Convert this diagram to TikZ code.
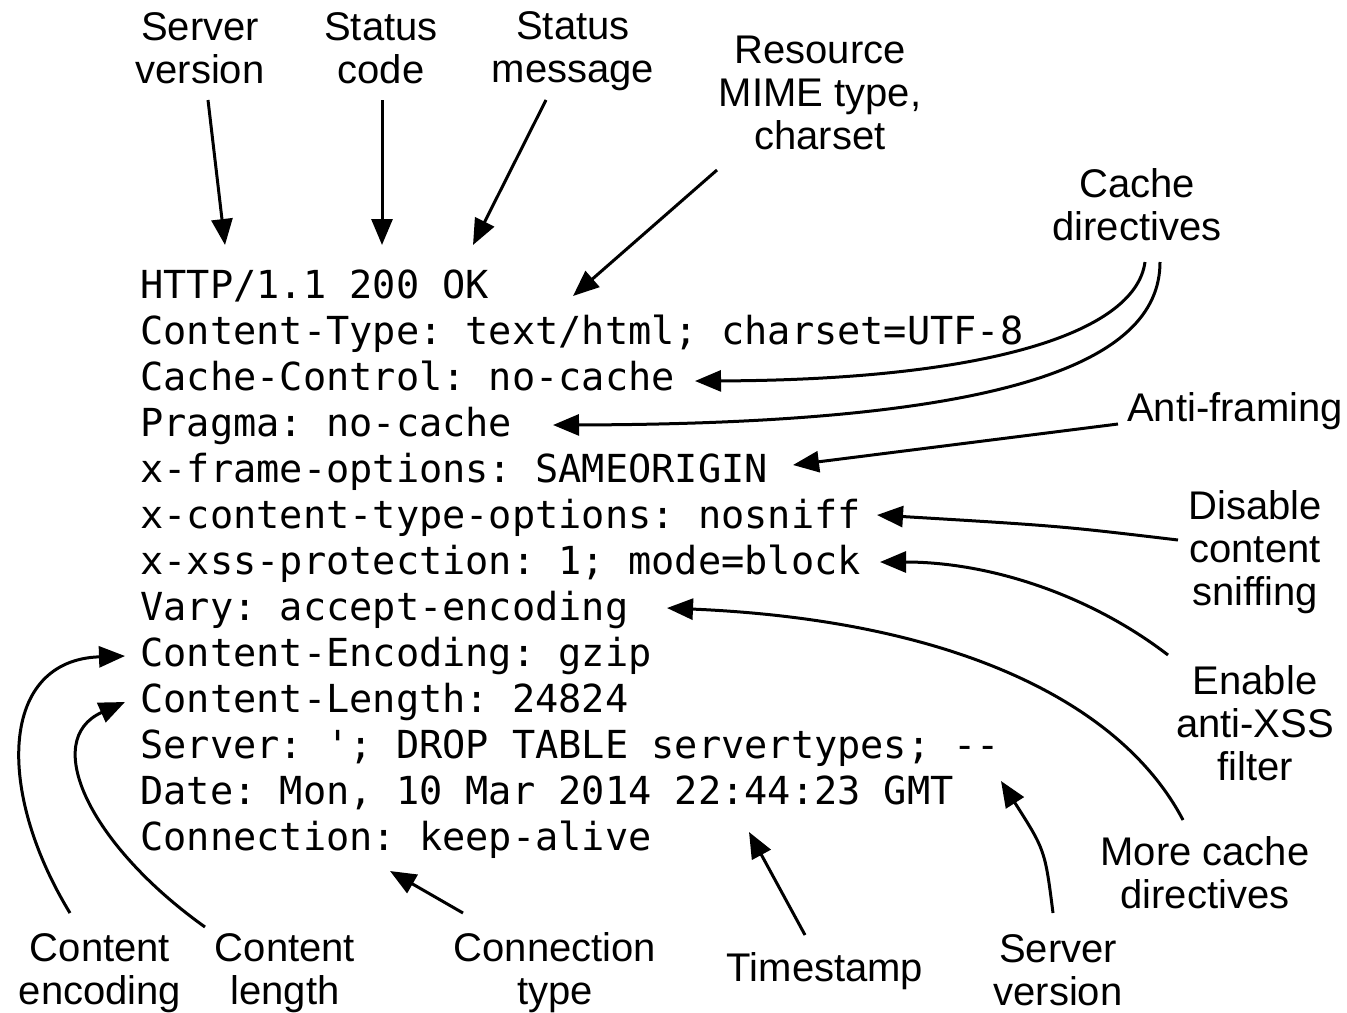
\documentclass[tikz,border=0pt]{standalone}
\usepackage{fontspec}
\setmainfont{Liberation Sans}
\setmonofont{DejaVu Sans Mono}
\usetikzlibrary{arrows.meta}
\begin{document}
\begin{tikzpicture}[x=0.5pt,y=-0.5pt,
  lbl/.style={font=\fontsize{20}{21.5}\selectfont, align=center, inner sep=0pt},
  code/.style={font=\ttfamily\fontsize{19.3}{23}\selectfont, anchor=base west, inner sep=0pt},
  ptr/.style={line width=1.5pt, -{Triangle[length=13pt,width=10.5pt]}}]
\fill[white] (0,0) rectangle (1347,1012);
\useasboundingbox (0,0) rectangle (1347,1012);

% the response header, one line per node
\node[code] (l0)  at (140,298) {HTTP/1.1 200 OK};
\node[code] (l1)  at (140,344) {Content-Type: text/html; charset=UTF-8};
\node[code] (l2)  at (140,390) {Cache-Control: no-cache};
\node[code] (l3)  at (140,436) {Pragma: no-cache};
\node[code] (l4)  at (140,482) {x-frame-options: SAMEORIGIN};
\node[code] (l5)  at (140,528) {x-content-type-options: nosniff};
\node[code] (l6)  at (140,574) {x-xss-protection: 1; mode=block};
\node[code] (l7)  at (140,620) {Vary: accept-encoding};
\node[code] (l8)  at (140,666) {Content-Encoding: gzip};
\node[code] (l9)  at (140,712) {Content-Length: 24824};
\node[code] (l10) at (140,758) {Server: '; DROP TABLE servertypes; --};
\node[code] (l11) at (140,804) {Date: Mon, 10 Mar 2014 22:44:23 GMT};
\node[code] (l12) at (140,850) {Connection: keep-alive};

% annotations
\node[lbl] (srvtop) at (200,48)  {Server\\version};
\node[lbl] (scode)  at (381,48)  {Status\\code};
\node[lbl] (smsg)   at (573,51)  {Status\\message};
\node[lbl] (mime)   at (820,93)  {Resource\\MIME type,\\charset};
\node[lbl] (cache)  at (1137,205) {Cache\\directives};
\node[lbl] (frame)  at (1235,411) {Anti-framing};
\node[lbl] (sniff)  at (1255,552) {Disable\\content\\sniffing};
\node[lbl] (xss)    at (1255,723) {Enable\\anti-XSS\\filter};
\node[lbl] (more)   at (1205,873) {More cache\\directives};
\node[lbl] (srvbot) at (1058,970) {Server\\version};
\node[lbl] (stamp)  at (825,971)  {Timestamp};
\node[lbl] (conn)   at (555,973)  {Connection\\type};
\node[lbl] (clen)   at (285,973)  {Content\\length};
\node[lbl] (cenc)   at (100,973)  {Content\\encoding};

% arrow end points
\coordinate (srvtopA) at (208,100);  \coordinate (srvtopB) at (225,245);
\coordinate (scodeA)  at (382,100);  \coordinate (scodeB)  at (382,245);
\coordinate (smsgA)   at (546,100);  \coordinate (smsgB)   at (473,245);
\coordinate (mimeA)   at (717,170);  \coordinate (mimeB)   at (573,296);
\coordinate (cacheA)  at (1145,262); \coordinate (cacheB)  at (695,381);
\coordinate (cacheC)  at (1160,262); \coordinate (cacheD)  at (553,425);
\coordinate (frameA)  at (1118,424); \coordinate (frameB)  at (793,465);
\coordinate (sniffA)  at (1178,540); \coordinate (sniffB)  at (877,515);
\coordinate (xssA)    at (1168,655); \coordinate (xssB)    at (880,562);
\coordinate (moreA)   at (1183,820); \coordinate (moreB)   at (667,608);
\coordinate (srvbotA) at (1053,913); \coordinate (srvbotB) at (1001,781);
\coordinate (stampA)  at (805,935);  \coordinate (stampB)  at (749,832);
\coordinate (connA)   at (463,913);  \coordinate (connB)   at (390,871);
\coordinate (clenA)   at (205,927);  \coordinate (clenB)   at (125,702);
\coordinate (cencA)   at (70,913);   \coordinate (cencB)   at (125,656);

\draw[ptr] (srvtopA) -- (srvtopB);
\draw[ptr] (scodeA) -- (scodeB);
\draw[ptr] (smsgA) -- (smsgB);
\draw[ptr] (mimeA) -- (mimeB);
\draw[ptr] (cacheA) .. controls (1135,335) and (980,380) .. (cacheB);
\draw[ptr] (cacheC) .. controls (1160,365) and (1000,424) .. (cacheD);
\draw[ptr] (frameA) -- (frameB);
\draw[ptr] (sniffA) .. controls (1060,526) .. (sniffB);
\draw[ptr] (xssA) .. controls (1090,595) and (990,562) .. (xssB);
\draw[ptr] (moreA) .. controls (1120,700) and (950,620) .. (moreB);
\draw[ptr] (srvbotA) .. controls (1045,850) .. (srvbotB);
\draw[ptr] (stampA) -- (stampB);
\draw[ptr] (connA) -- (connB);
\draw[ptr] (clenA) .. controls (90,845) and (40,740) .. (clenB);
\draw[ptr] (cencA) .. controls (-5,790) and (0,660) .. (cencB);
\end{tikzpicture}
\end{document}
